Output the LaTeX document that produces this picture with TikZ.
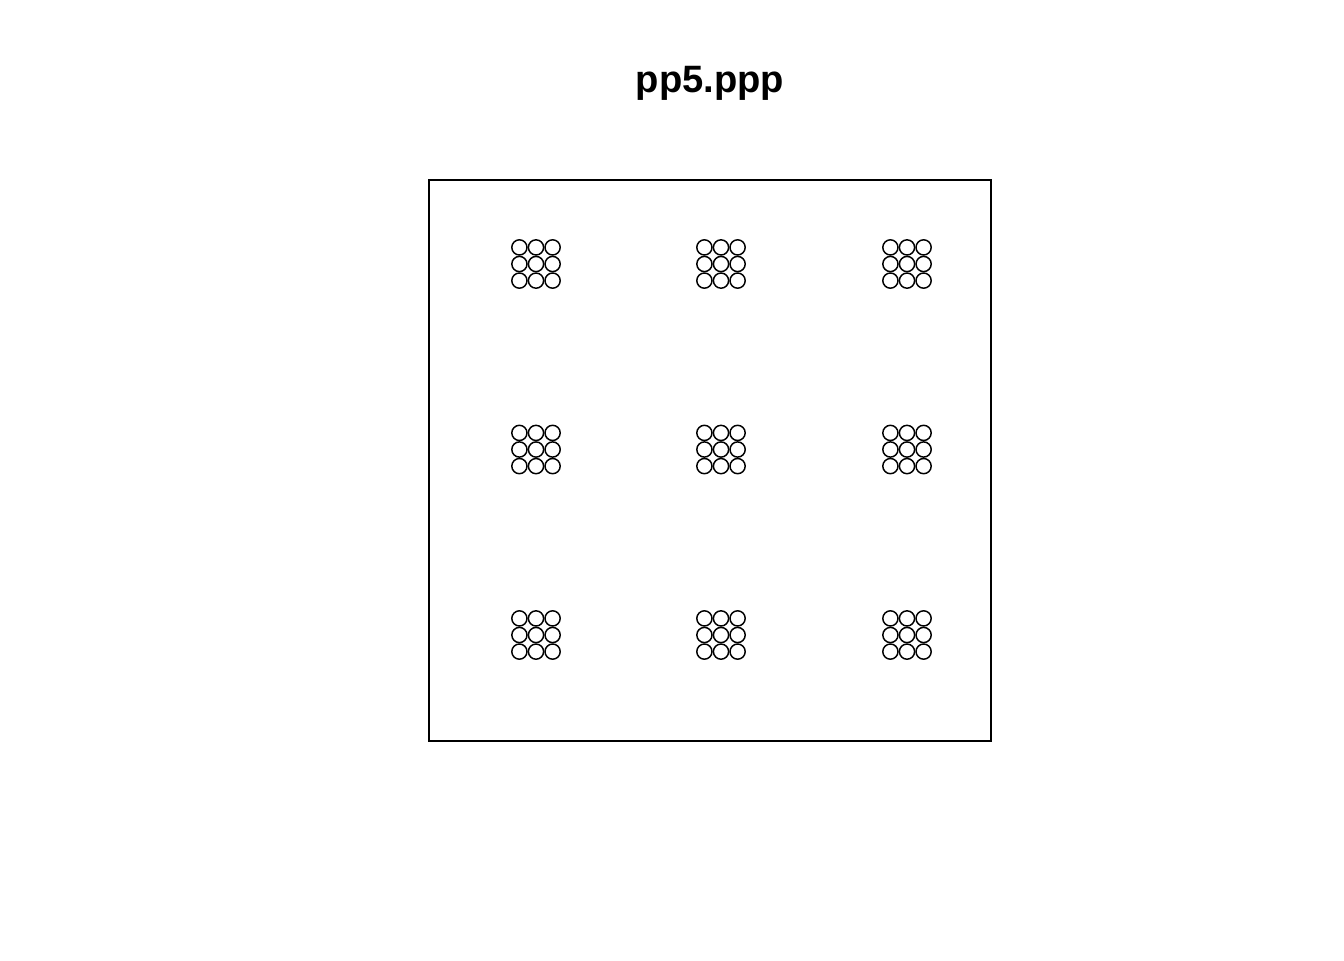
\documentclass[tikz,border=0pt]{standalone}
\usepackage{fontspec}
\setmainfont{Liberation Sans}
\newcommand\ptrad{7.6}
\newcommand\ptgap{16.6}
\tikzstyle{pt} = [draw=black, line width=1.1pt]
\tikzstyle{window} = [draw=black, line width=1.1pt]

\begin{document}
\begin{tikzpicture}[x=0.75pt, y=-0.75pt]
	    \useasboundingbox (0,0) rectangle (1344,960);

	    \node[font=\fontsize{28.6}{32}\selectfont\bfseries, anchor=base] (title) at (710,92.5) {pp5.ppp};

	    \draw[window] (429,180) rectangle (991,741);

	    \foreach \cx in {536,721,907}
	    \foreach \cy in {264,449.5,635}
	    \foreach \i in {-1,0,1}
	    \foreach \j in {-1,0,1}
	        \draw[pt] (\cx+\i*\ptgap, \cy+\j*\ptgap) circle[radius=\ptrad];
	\end{tikzpicture}
\end{document}
